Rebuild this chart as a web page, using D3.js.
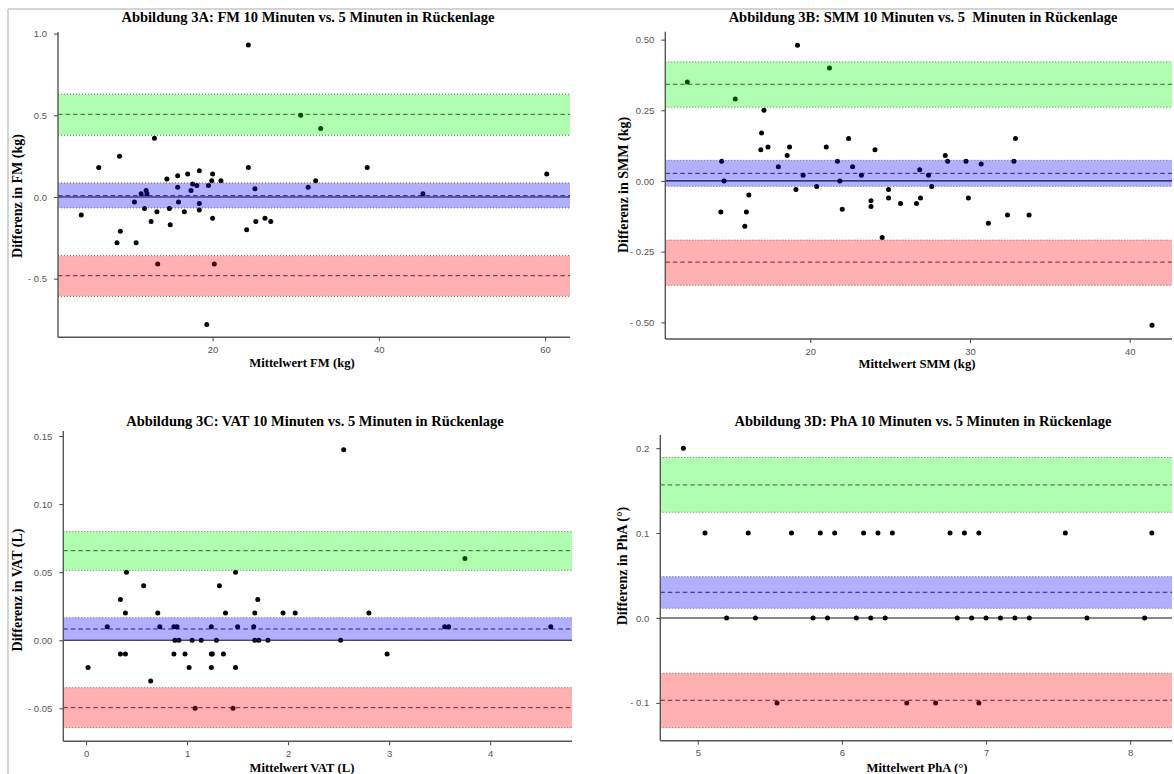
<!DOCTYPE html>
<html>
<head>
<meta charset="utf-8">
<script src="https://cdn.jsdelivr.net/npm/d3@7"></script>
<style>
  html, body { margin: 0; padding: 0; background: #fff; }
  svg { display: block; }
</style>
</head>
<body>
<svg id="chart" width="1174" height="774"></svg>
<script>
// ---- Bland-Altman data: mean of both measurements (x) and their difference (y) ----
const fmMean = [4.2, 6.3, 8.5, 8.8, 8.9, 10.6, 10.8, 11.4, 11.8, 12.0, 12.1, 12.6, 13.0, 13.3, 13.4, 14.5, 14.8, 14.9,
  15.8, 15.8, 15.9, 16.6, 17.0, 17.4, 17.6, 18.1, 18.4, 18.4, 18.4, 19.3, 19.5, 19.9, 20.0, 20.0, 20.2, 21.0,
  24.1, 24.3, 24.3, 25.1, 25.2, 26.3, 27.0, 30.6, 31.5, 32.4, 33.0, 38.6, 45.3, 60.2];
const fmDiff = [-0.11, 0.18, -0.28, 0.25, -0.21, -0.03, -0.28, 0.02, -0.07, 0.04, 0.02, -0.15, 0.36, -0.09, -0.41, 0.11, -0.07, -0.17,
  0.13, 0.06, -0.03, -0.09, 0.14, 0.04, 0.08, 0.07, 0.16, -0.04, -0.08, -0.78, 0.07, 0.10, 0.14, -0.13, -0.41, 0.10,
  -0.20, 0.93, 0.18, 0.05, -0.15, -0.13, -0.15, 0.50, 0.06, 0.10, 0.42, 0.18, 0.02, 0.14];

const smmMean = [12.3, 14.4, 14.45, 14.6, 15.3, 15.9, 16.0, 16.15, 16.9, 16.95, 17.1, 17.35, 18.0, 18.55, 18.7, 19.1, 19.2,
  19.55, 20.4, 21.0, 21.2, 21.7, 21.85, 22.0, 22.4, 22.65, 23.2, 23.8, 23.8, 24.05, 24.5, 24.9, 24.9, 25.65, 26.65,
  26.85, 26.9, 27.4, 27.6, 28.45, 28.6, 29.75, 29.9, 30.7, 31.15, 32.35, 32.75, 32.85, 33.7, 41.4];
const smmDiff = [0.35, -0.11, 0.07, 0.00, 0.29, -0.16, -0.11, -0.05, 0.11, 0.17, 0.25, 0.12, 0.05, 0.09, 0.12, -0.03, 0.48,
  0.02, -0.02, 0.12, 0.40, 0.07, 0.00, -0.10, 0.15, 0.05, 0.02, -0.07, -0.09, 0.11, -0.20, -0.03, -0.06, -0.08, -0.08,
  0.04, -0.06, 0.02, -0.02, 0.09, 0.07, 0.07, -0.06, 0.06, -0.15, -0.12, 0.07, 0.15, -0.12, -0.51];

const vatMean = [0.02, 0.21, 0.34, 0.34, 0.39, 0.39, 0.40, 0.57, 0.64, 0.71, 0.73, 0.87, 0.87, 0.90, 0.88, 0.92, 0.98,
  1.02, 1.05, 1.08, 1.14, 1.24, 1.24, 1.25, 1.24, 1.29, 1.32, 1.36, 1.38, 1.455, 1.48, 1.48, 1.50, 1.66, 1.67,
  1.67, 1.71, 1.70, 1.80, 1.95, 2.07, 2.52, 2.55, 2.80, 2.98, 3.55, 3.59, 3.75, 4.60];
const vatDiff = [-0.02, 0.01, 0.03, -0.01, -0.01, 0.02, 0.05, 0.04, -0.03, 0.02, 0.01, -0.01, 0.01, 0.01, 0.00, 0.00, -0.01,
  -0.02, 0.00, -0.05, 0.00, 0.01, -0.01, -0.01, -0.02, 0.00, 0.04, -0.01, 0.02, -0.05, -0.02, 0.05, 0.01, 0.01, 0.02,
  0.00, 0.00, 0.03, 0.00, 0.02, 0.02, 0.00, 0.14, 0.02, -0.01, 0.01, 0.01, 0.06, 0.01];

const phaMean = [4.90, 5.05, 5.20, 5.35, 5.40, 5.55, 5.65, 5.80, 5.85, 5.90, 5.95, 6.10, 6.15, 6.20, 6.25, 6.30, 6.35,
  6.45, 6.65, 6.75, 6.80, 6.85, 6.90, 6.95, 6.95, 7.00, 7.10, 7.20, 7.30, 7.55, 7.70, 8.10, 8.15];
const phaDiff = [0.2, 0.1, 0.0, 0.1, 0.0, -0.1, 0.1, 0.0, 0.1, 0.0, 0.1, 0.0, 0.1, 0.0, 0.1, 0.0, 0.1,
  -0.1, -0.1, 0.1, 0.0, 0.1, 0.0, 0.1, -0.1, 0.0, 0.0, 0.0, 0.0, 0.1, 0.0, 0.0, 0.1];

// ---- Limits of agreement [lower CI, estimate, upper CI]: upper LoA, bias, lower LoA ----
const fmUpper = [0.378, 0.506, 0.629], fmBias = [-0.067, 0.008, 0.086], fmLower = [-0.608, -0.482, -0.359];
const smmUpper = [0.261, 0.342, 0.421], smmBias = [-0.019, 0.027, 0.073], smmLower = [-0.369, -0.287, -0.209];
const vatUpper = [0.0514, 0.0658, 0.0798], vatBias = [0.0, 0.0083, 0.0166], vatLower = [-0.0642, -0.0495, -0.0348];
const phaUpper = [0.1245, 0.1567, 0.189], phaBias = [0.0114, 0.0303, 0.0487], phaLower = [-0.1292, -0.0969, -0.0651];

// ---- Axis ticks ----
const fmXTicks = [20, 40, 60], fmYTicks = [-0.5, 0.0, 0.5, 1.0];
const smmXTicks = [20, 30, 40], smmYTicks = [-0.5, -0.25, 0.0, 0.25, 0.5];
const vatXTicks = [0, 1, 2, 3, 4], vatYTicks = [-0.05, 0.0, 0.05, 0.10, 0.15];
const phaXTicks = [5, 6, 7, 8], phaYTicks = [-0.1, 0.0, 0.1, 0.2];

// ---- Texts ----
const titles = [
  "Abbildung 3A: FM 10 Minuten vs. 5 Minuten in Rückenlage",
  "Abbildung 3B: SMM 10 Minuten vs. 5\u00a0 Minuten in Rückenlage",
  "Abbildung 3C: VAT 10 Minuten vs. 5 Minuten in Rückenlage",
  "Abbildung 3D: PhA 10 Minuten vs. 5 Minuten in Rückenlage"
];
const xLabels = ["Mittelwert FM (kg)", "Mittelwert SMM (kg)", "Mittelwert VAT (L)", "Mittelwert PhA (°)"];
const yLabels = ["Differenz in FM (kg)", "Differenz in SMM (kg)", "Differenz in VAT (L)", "Differenz in PhA (°)"];

const svg = d3.select("#chart");

// thin frame along the top and left edge
svg.append("line").attr("x1", 8).attr("x2", 1174).attr("y1", 9).attr("y2", 9)
  .attr("stroke", "#d4d4d4").attr("stroke-width", 2);
svg.append("line").attr("x1", 8).attr("x2", 8).attr("y1", 9).attr("y2", 774)
  .attr("stroke", "#d4d4d4").attr("stroke-width", 2);

const panels = [
  { xs: fmMean, ys: fmDiff, bands: [fmUpper, fmBias, fmLower], xTicks: fmXTicks, yTicks: fmYTicks, yFmt: ".1f",
    xDom: [1.4, 63.0], yDom: [-0.859, 1.01], box: { l: 58, r: 570, t: 32, b: 337.3 },
    title: titles[0], tx: 308, ty: 22, xl: xLabels[0], xlx: 302, xly: 367, yl: yLabels[0], ylx: 22, yly: 196 },
  { xs: smmMean, ys: smmDiff, bands: [smmUpper, smmBias, smmLower], xTicks: smmXTicks, yTicks: smmYTicks, yFmt: ".2f",
    xDom: [10.92, 42.65], yDom: [-0.559, 0.528], box: { l: 665.3, r: 1172, t: 31.7, b: 339 },
    title: titles[1], tx: 923, ty: 22, xl: xLabels[1], xlx: 917, xly: 368, yl: yLabels[1], ylx: 628, yly: 185 },
  { xs: vatMean, ys: vatDiff, bands: [vatUpper, vatBias, vatLower], xTicks: vatXTicks, yTicks: vatYTicks, yFmt: ".2f",
    xDom: [-0.225, 4.81], yDom: [-0.0742, 0.1537], box: { l: 63.3, r: 572, t: 431, b: 741.3 },
    title: titles[2], tx: 315, ty: 426, xl: xLabels[2], xlx: 302, xly: 772, yl: yLabels[2], ylx: 22, yly: 590 },
  { xs: phaMean, ys: phaDiff, bands: [phaUpper, phaBias, phaLower], xTicks: phaXTicks, yTicks: phaYTicks, yFmt: ".1f",
    xDom: [4.74, 8.29], yDom: [-0.1445, 0.2155], box: { l: 660.3, r: 1172, t: 435, b: 740.7 },
    title: titles[3], tx: 923, ty: 426, xl: xLabels[3], xlx: 917, xly: 772, yl: yLabels[3], ylx: 627, yly: 566 }
];

const bandColors = ["#00ff00", "#0000ff", "#ff0000"];
const serif = "'Liberation Serif', 'Times New Roman', serif";
const sans = "'Liberation Sans', Arial, sans-serif";

panels.forEach(p => {
  const x = d3.scaleLinear().domain(p.xDom).range([p.box.l, p.box.r]);
  const y = d3.scaleLinear().domain(p.yDom).range([p.box.b, p.box.t]);
  const g = svg.append("g");

  // zero reference line
  g.append("line").attr("x1", p.box.l).attr("x2", p.box.r)
    .attr("y1", y(0)).attr("y2", y(0)).attr("stroke", "#111").attr("stroke-width", 1.2);

  // dashed estimate lines (bias and limits of agreement)
  g.selectAll("line.est").data(p.bands).join("line").attr("class", "est")
    .attr("x1", p.box.l).attr("x2", p.box.r)
    .attr("y1", d => y(d[1])).attr("y2", d => y(d[1]))
    .attr("stroke", "#333").attr("stroke-width", 1).attr("stroke-dasharray", "4.5,3");

  // points
  g.selectAll("circle").data(p.xs.map((v, i) => [v, p.ys[i]])).join("circle")
    .attr("cx", d => x(d[0])).attr("cy", d => y(d[1])).attr("r", 2.5).attr("fill", "#000");

  // confidence bands, translucent, over the points
  g.selectAll("rect.band").data(p.bands).join("rect").attr("class", "band")
    .attr("x", p.box.l).attr("width", p.box.r - p.box.l)
    .attr("y", d => y(d[2])).attr("height", d => y(d[0]) - y(d[2]))
    .attr("fill", (d, i) => bandColors[i]).attr("fill-opacity", 0.31);

  // dotted band edges
  p.bands.forEach(b => {
    [b[0], b[2]].forEach(v => {
      g.append("line").attr("x1", p.box.l).attr("x2", p.box.r)
        .attr("y1", y(v)).attr("y2", y(v))
        .attr("stroke", "#555").attr("stroke-width", 0.9).attr("stroke-dasharray", "1,2");
    });
  });

  // axes
  const fmtY = d3.format(p.yFmt);
  const yAxis = d3.axisLeft(y).tickValues(p.yTicks).tickSize(4).tickPadding(7)
    .tickFormat(v => v < 0 ? "- " + fmtY(-v) : fmtY(v));
  const xAxis = d3.axisBottom(x).tickValues(p.xTicks).tickSize(4).tickPadding(5).tickFormat(d3.format("d"));

  const ya = g.append("g").attr("transform", `translate(${p.box.l},0)`).call(yAxis);
  const xa = g.append("g").attr("transform", `translate(0,${p.box.b})`).call(xAxis);
  [ya, xa].forEach(a => {
    a.select(".domain").remove();
    a.selectAll(".tick line").attr("stroke", "#444").attr("stroke-width", 1);
    a.selectAll(".tick text").attr("fill", "#555").style("font-family", sans).style("font-size", "9.5px");
  });
  g.append("line").attr("x1", p.box.l).attr("x2", p.box.l).attr("y1", p.box.t).attr("y2", p.box.b)
    .attr("stroke", "#555").attr("stroke-width", 1.4);
  g.append("line").attr("x1", p.box.l).attr("x2", p.box.r).attr("y1", p.box.b).attr("y2", p.box.b)
    .attr("stroke", "#555").attr("stroke-width", 1.4);

  // title and axis titles
  g.append("text").attr("x", p.tx).attr("y", p.ty).attr("text-anchor", "middle")
    .style("font-family", serif).style("font-weight", "bold").style("font-size", "14.5px")
    .style("white-space", "pre").text(p.title);
  g.append("text").attr("x", p.xlx).attr("y", p.xly).attr("text-anchor", "middle")
    .style("font-family", serif).style("font-weight", "bold").style("font-size", "12.7px").text(p.xl);
  g.append("text").attr("transform", `translate(${p.ylx},${p.yly}) rotate(-90)`).attr("text-anchor", "middle")
    .style("font-family", serif).style("font-weight", "bold").style("font-size", "14px").text(p.yl);
});
</script>
</body>
</html>
